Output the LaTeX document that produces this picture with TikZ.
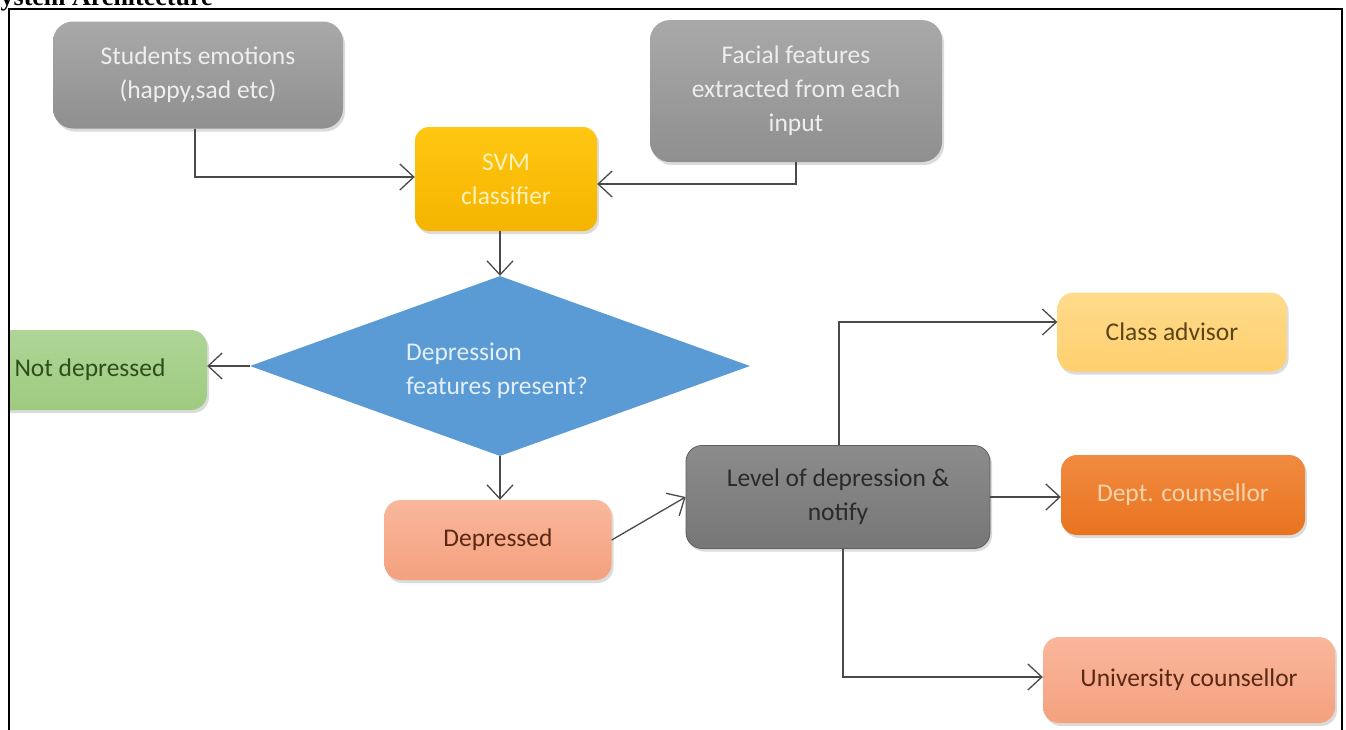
\documentclass[tikz,border=0pt]{standalone}
\usepackage{fontspec}
\setmainfont{Carlito}
\newfontfamily\titlefont{Liberation Serif}
\usetikzlibrary{arrows.meta,shapes.geometric,shadows}
\definecolor{linec}{HTML}{4A4A4A}
\definecolor{grayT}{HTML}{A9A9A9}
\definecolor{grayB}{HTML}{8F8F8F}
\definecolor{grayText}{HTML}{EEEEEE}
\definecolor{svmT}{HTML}{FFC712}
\definecolor{svmB}{HTML}{F5B400}
\definecolor{svmText}{HTML}{FFF2B8}
\definecolor{diaFill}{HTML}{5B9BD5}
\definecolor{diaText}{HTML}{E4EFFA}
\definecolor{greenT}{HTML}{AED596}
\definecolor{greenB}{HTML}{9ECB80}
\definecolor{greenText}{HTML}{2C4F1C}
\definecolor{salT}{HTML}{F9B79B}
\definecolor{salB}{HTML}{F4A17F}
\definecolor{salText}{HTML}{5A2814}
\definecolor{lvlT}{HTML}{8C8C8C}
\definecolor{lvlB}{HTML}{767676}
\definecolor{lvlText}{HTML}{2A2A2A}
\definecolor{lvlDraw}{HTML}{5E5E5E}
\definecolor{clsT}{HTML}{FFDB8C}
\definecolor{clsB}{HTML}{FFCF6E}
\definecolor{clsText}{HTML}{594518}
\definecolor{dptT}{HTML}{F18B40}
\definecolor{dptB}{HTML}{E9731F}
\definecolor{dptText}{HTML}{FBD4AE}
\tikzset{
  box/.style={rectangle, rounded corners=16pt, inner sep=0pt, align=center,
    font=\fontsize{25.5}{34}\selectfont,
    drop shadow={opacity=0.28, shadow xshift=2pt, shadow yshift=-3pt}},
  graybox/.style={box, top color=grayT, bottom color=grayB, text=grayText, rounded corners=20pt},
  svmbox/.style={box, top color=svmT, bottom color=svmB, text=svmText, rounded corners=14pt},
  greenbox/.style={box, top color=greenT, bottom color=greenB, text=greenText},
  salbox/.style={box, top color=salT, bottom color=salB, text=salText},
  lvlbox/.style={box, top color=lvlT, bottom color=lvlB, text=lvlText, draw=lvlDraw, line width=0.8pt},
  clsbox/.style={box, top color=clsT, bottom color=clsB, text=clsText},
  dptbox/.style={box, top color=dptT, bottom color=dptB, text=dptText},
  conn/.style={draw=linec, line width=1.3pt, -{Straight Barb[length=14pt,width=26pt,line width=1.3pt]}},
}
\begin{document}
\begin{tikzpicture}[x=1pt,y=-1pt]
\useasboundingbox (0,0) rectangle (1346,729);
\clip (0,0) rectangle (1346,729);
\fill[white] (0,0) rectangle (1346,729);
\node[anchor=base west, inner sep=0pt, font=\titlefont\bfseries\fontsize{26}{30}\selectfont] (title) at (-14,5) {System Architecture};

\node[graybox, minimum width=290pt, minimum height=107pt] (emo) at (198,75) {Students emotions\\(happy,sad etc)};
\node[graybox, minimum width=292pt, minimum height=142pt] (fac) at (796,91) {Facial features\\extracted from each\\input};
\node[svmbox, minimum width=182pt, minimum height=104pt] (svm) at (506,179) {SVM\\classifier};
\node[diamond, fill=diaFill, aspect=2.78, minimum width=500pt, minimum height=180pt, inner sep=0pt] (dia) at (500,366) {};
\node[align=left, inner sep=0pt, text=diaText, font=\fontsize{25.5}{34}\selectfont] (diat) at (497,371) {Depression\\features present?};
\begin{scope}
  \clip (10,0) rectangle (400,729);
  \node[greenbox, minimum width=234pt, minimum height=80pt] (nd) at (90,370) {Not depressed};
\end{scope}
\node[salbox, minimum width=227pt, minimum height=80pt] (dep) at (498,540) {Depressed};
\node[lvlbox, minimum width=304pt, minimum height=103pt] (lvl) at (838,497) {Level of depression \&\\notify};
\node[clsbox, minimum width=229pt, minimum height=79pt] (cls) at (1172,332) {Class advisor};
\node[dptbox, minimum width=244pt, minimum height=80pt] (dpt) at (1183,495) {Dept. counsellor};
\node[salbox, minimum width=292pt, minimum height=86pt] (uni) at (1189,680) {University counsellor};

\draw[conn] ([xshift=-3pt]emo.south) |- ([yshift=2pt]svm.west);
\draw[conn] (fac.south) |- ([yshift=-5pt]svm.east);
\draw[conn] (dia.north |- svm.south) -- (dia.north);
\draw[conn] (dia.west) -- (nd.east |- dia.west);
\draw[conn] (dia.south) -- (dia.south |- dep.north);
\draw[conn] (dep.east) -- (lvl.west);
\draw[conn] ([xshift=1pt]lvl.north) |- ([yshift=10pt]cls.west);
\draw[conn] (lvl.east) -- (lvl.east -| dpt.west);
\draw[conn] ([xshift=5pt]lvl.south) |- ([yshift=3pt]uni.west);

\draw[line width=2pt, black] (9,9) rectangle (1342,780);
\end{tikzpicture}
\end{document}
